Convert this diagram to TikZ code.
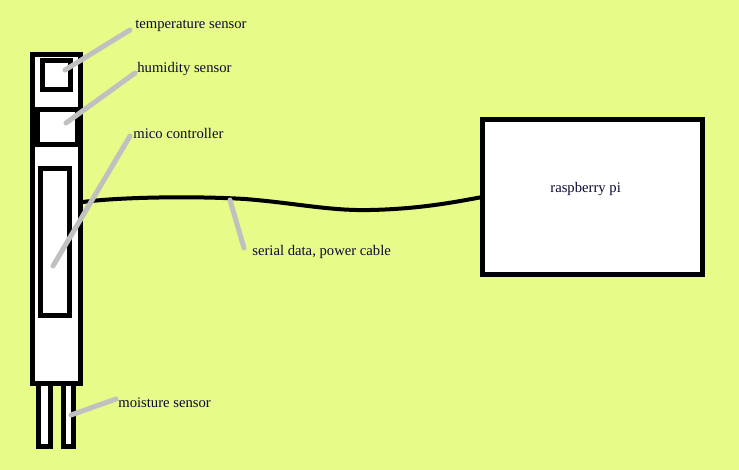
\documentclass[tikz,border=0pt]{standalone}
\usepackage{fontspec}
\setmainfont{Liberation Serif}
\usepackage{tikz}
\usepackage{xcolor}
\definecolor{bgyel}{RGB}{230,251,136}
\definecolor{leadgray}{RGB}{192,192,192}
\definecolor{txtnavy}{RGB}{10,10,50}
\tikzset{every picture/.style={line width=0.75pt}}
\tikzset{
  box/.style={draw=black,fill=white,line width=5pt,inner sep=0pt,outer sep=0pt},
  cable/.style={draw=black,line width=4pt},
  lead/.style={draw=leadgray,line width=5pt,line cap=round},
  lbl/.style={anchor=base west,inner sep=0pt,text=txtnavy,font=\fontsize{14.67}{17}\selectfont}
}

\begin{document}
\begin{tikzpicture}[x=1pt,y=1pt,yscale=-1,xscale=1]
%Background
\fill[bgyel] (0,0) rectangle (739,470);
\useasboundingbox (0,0) rectangle (739,470);

%Shape: Rectangle (prongs)
\node[box,minimum width=12pt,minimum height=63pt] (prongL) at (44.5,415) {};
\node[box,minimum width=10pt,minimum height=63pt] (prongR) at (68.5,415) {};
%Shape: Rectangle (sensor body)
\node[box,minimum width=48pt,minimum height=329pt] (body) at (56.5,219) {};
%Shape: Rectangle (temperature sensor)
\node[box,minimum width=28pt,minimum height=29.5pt] (temp) at (56.5,75.25) {};
%Shape: Rectangle (humidity sensor)
\node[box,minimum width=40pt,minimum height=35pt] (humid) at (57.5,127) {};
%Shape: Rectangle (micro controller)
\node[box,minimum width=29.5pt,minimum height=147pt] (mcu) at (54.75,242) {};
%Shape: Rectangle (raspberry pi)
\node[box,minimum width=220pt,minimum height=155pt] (pi) at (592.5,197) {};

%Cable
\coordinate (cblA) at (83,202);
\draw[cable] (cblA) .. controls (120,197) and (195,196) .. (245,199)
  .. controls (295,203) and (330,211) .. (370,210)
  .. controls (420,209) and (455,202) .. (pi.west);

% Text Node
\node[lbl] (tempLbl) at (135,29) {temperature sensor};
% Text Node
\node[lbl] (humidLbl) at (137,73) {humidity sensor};
% Text Node
\node[lbl] (mcuLbl) at (133,139) {mico controller};
% Text Node
\node[lbl] (cableLbl) at (252,256) {serial data, power cable};
% Text Node
\node[lbl] (moistLbl) at (118,407) {moisture sensor};
% Text Node
\node[lbl] (piLbl) at (550,193) {raspberry pi};

%Leader lines
\coordinate (tempA) at (65,70);   \coordinate (tempB) at (130,30);
\coordinate (humidA) at (66,123); \coordinate (humidB) at (135,73);
\coordinate (mcuA) at (53,266);   \coordinate (mcuB) at (130,136);
\coordinate (cableA) at (230,200);\coordinate (cableB) at (244,248);
\coordinate (moistA) at (71,415); \coordinate (moistB) at (116,399);
\draw[lead] (tempA) -- (tempB);
\draw[lead] (humidA) -- (humidB);
\draw[lead] (mcuA) -- (mcuB);
\draw[lead] (cableA) -- (cableB);
\draw[lead] (moistA) -- (moistB);

\end{tikzpicture}
\end{document}
